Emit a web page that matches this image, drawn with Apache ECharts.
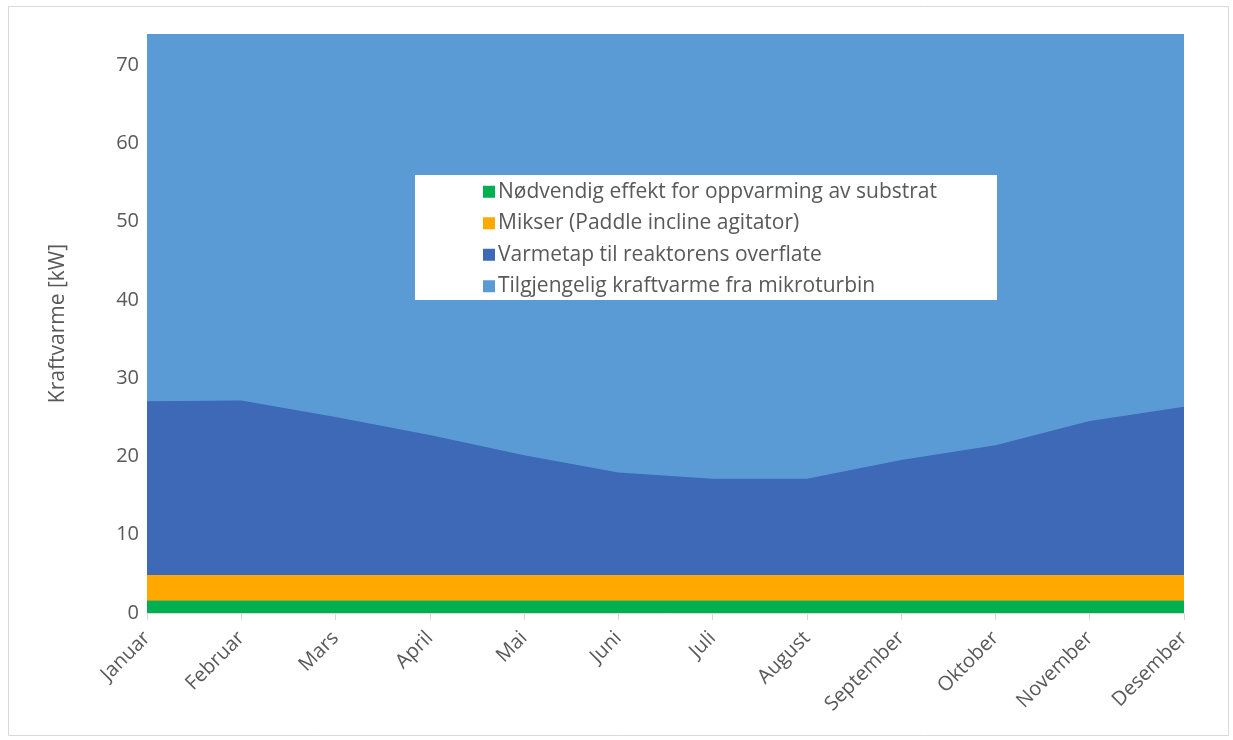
<!DOCTYPE html>
<html>
<head>
<meta charset="utf-8">
<script src="https://cdn.jsdelivr.net/npm/echarts@6/dist/echarts.min.js"></script>
<style>
  html, body { margin: 0; padding: 0; background: #fff; }
  #chart { width: 1233px; height: 740px; }
</style>
</head>
<body>
<div id="chart"></div>
<script>
// Månedlig varmebalanse for reaktoren [kW]
const months = ['Januar', 'Februar', 'Mars', 'April', 'Mai', 'Juni', 'Juli', 'August', 'September', 'Oktober', 'November', 'Desember'];
const substratOppvarming = [1.6, 1.6, 1.6, 1.6, 1.6, 1.6, 1.6, 1.6, 1.6, 1.6, 1.6, 1.6];
const mikser = [3.25, 3.25, 3.25, 3.25, 3.25, 3.25, 3.25, 3.25, 3.25, 3.25, 3.25, 3.25];
const varmetap = [22.2, 22.3, 20.2, 17.9, 15.3, 13.1, 12.3, 12.3, 14.7, 16.6, 19.7, 21.5];
const tilgjengelig = [74, 74, 74, 74, 74, 74, 74, 74, 74, 74, 74, 74];
const yTicks = { min: 0, max: 74, interval: 10 };

const names = [
  'Nødvendig effekt for oppvarming av substrat',
  'Mikser (Paddle incline agitator)',
  'Varmetap til reaktorens overflate',
  'Tilgjengelig kraftvarme fra mikroturbin'
];
const colors = ['#00B050', '#FFA800', '#3D69B7', '#5B9BD5'];
const FONT = '"Open Sans", "DejaVu Sans", sans-serif';
const TXT = '#595959';

const chart = echarts.init(document.getElementById('chart'), null, { renderer: 'canvas' });

function stacked(name, data, color, z) {
  return {
    name, type: 'line', stack: 'varme', data,
    symbol: 'none', z,
    lineStyle: { width: 0 },
    itemStyle: { color },
    areaStyle: { color, opacity: 1 },
    emphasis: { disabled: true }
  };
}

chart.setOption({
  animation: false,
  textStyle: { fontFamily: FONT },
  grid: { left: 147, right: 49, top: 34, bottom: 127, containLabel: false },
  graphic: [
    {
      type: 'rect', z: -10, silent: true,
      shape: { x: 8.5, y: 6.5, width: 1220, height: 729 },
      style: { fill: '#fff', stroke: '#D9D9D9', lineWidth: 1 }
    },
    {
      type: 'rect', z: 50, silent: true,
      shape: { x: 415, y: 175, width: 582, height: 125 },
      style: { fill: '#fff' }
    }
  ],
  legend: {
    data: names,
    orient: 'vertical',
    left: 478, top: 173,
    itemWidth: 12, itemHeight: 12, itemGap: 4,
    icon: 'rect',
    z: 60,
    textStyle: { color: TXT, fontSize: 21, lineHeight: 27.5, fontFamily: FONT, padding: [0, 0, 0, -2] },
    selectedMode: false
  },
  xAxis: {
    type: 'category',
    data: months,
    boundaryGap: false,
    axisLine: { lineStyle: { color: '#D9D9D9', width: 1 } },
    axisTick: { show: true, alignWithLabel: true, length: 7, lineStyle: { color: '#D9D9D9' } },
    axisLabel: { rotate: 45, color: TXT, fontSize: 20, fontFamily: FONT, margin: 22, interval: 0 },
    splitLine: { show: false },
    z: 10
  },
  yAxis: {
    type: 'value',
    min: yTicks.min, max: yTicks.max, interval: yTicks.interval,
    name: 'Kraftvarme [kW]',
    nameLocation: 'middle',
    nameGap: 78,
    nameTextStyle: { color: TXT, fontSize: 21, fontFamily: FONT },
    axisLine: { show: false },
    axisTick: { show: false },
    axisLabel: { color: TXT, fontSize: 20, fontFamily: FONT, margin: 8,
      showMaxLabel: false },
    splitLine: { show: false }
  },
  series: [
    stacked(names[0], substratOppvarming, colors[0], 5),
    stacked(names[1], mikser, colors[1], 5),
    stacked(names[2], varmetap, colors[2], 5),
    {
      name: names[3], type: 'line', data: tilgjengelig,
      symbol: 'none', z: 1,
      lineStyle: { width: 0 },
      itemStyle: { color: colors[3] },
      areaStyle: { color: colors[3], opacity: 1 },
      emphasis: { disabled: true }
    }
  ]
});
</script>
</body>
</html>
